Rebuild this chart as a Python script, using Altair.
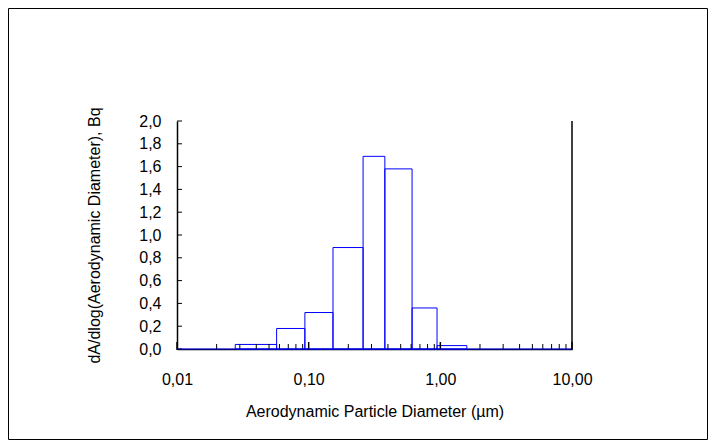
import altair as alt
import pandas as pd

# Bin edges (µm) and heights (Bq)
edges = [0.0277, 0.0571, 0.0936, 0.153, 0.259, 0.379, 0.61, 0.944, 1.59]
heights = [0.04, 0.18, 0.32, 0.89, 1.69, 1.58, 0.36, 0.03]

x_major = [0.01, 0.1, 1, 10]
x_minor = [k * d for d in [0.01, 0.1, 1] for k in range(2, 10)]
y_ticks = [0.0, 0.2, 0.4, 0.6, 0.8, 1.0, 1.2, 1.4, 1.6, 1.8, 2.0]

XT = "Aerodynamic Particle Diameter (µm)"
YT = "dA/dlog(Aerodynamic Diameter), Bq"

W, H = 395, 228
PL, PT = 169, 113
PR = 700 - PL - W
PB = 432 - PT - H

bars_df = pd.DataFrame({"lo": edges[:-1], "hi": edges[1:], "h": heights, "base": [0] * len(heights)})
base_df = pd.DataFrame({"a": [0.01], "b": [10], "y": [0]})
minor_df = pd.DataFrame({"v": x_minor})
major_df = pd.DataFrame({"v": x_major})
yt_df = pd.DataFrame({"v": y_ticks})

xs = alt.Scale(type="log", domain=[0.01, 10])
ys = alt.Scale(domain=[0, 2], nice=False)

FONT = "Liberation Sans"

x_axis = alt.Axis(
    values=x_major, ticks=False, grid=False, labelOverlap=False, labelFlush=False,
    labelExpr="replace(format(datum.value, '.2f'), '.', ',')",
    labelPadding=22, titleY=62, titleBaseline="middle")
y_axis = alt.Axis(
    values=y_ticks, ticks=False, grid=False, labelOverlap=False, labelFlush=False,
    labelExpr="replace(format(datum.value, '.1f'), '.', ',')",
    labelPadding=16, titleX=-83, titleY=H / 2, titleBaseline="middle")

bars = alt.Chart(bars_df).mark_rect(fillOpacity=0, stroke="#0000FF", strokeWidth=1).encode(
    x=alt.X("lo:Q", scale=xs, title=XT, axis=x_axis),
    x2="hi:Q",
    y=alt.Y("h:Q", scale=ys, title=YT, axis=y_axis),
    y2="base:Q",
)

baseline = alt.Chart(base_df).mark_rule(color="#0000FF", strokeWidth=1).encode(
    x=alt.X("a:Q", scale=xs, title=XT, axis=x_axis), x2="b:Q",
    y=alt.Y("y:Q", scale=ys, title=YT, axis=y_axis)
)

minor_ticks = alt.Chart(minor_df).mark_rule(color="black", strokeWidth=1).encode(
    x=alt.X("v:Q", scale=xs, title=XT, axis=x_axis), y=alt.value(H), y2=alt.value(H - 5)
)
major_ticks = alt.Chart(major_df).mark_rule(color="black", strokeWidth=1.5).encode(
    x=alt.X("v:Q", scale=xs, title=XT, axis=x_axis), y=alt.value(H + 1), y2=alt.value(H - 7)
)
y_tick_marks = alt.Chart(yt_df).mark_rule(color="black", strokeWidth=1).encode(
    y=alt.Y("v:Q", scale=ys, title=YT, axis=y_axis), x=alt.value(0), x2=alt.value(5)
)

right_line = alt.Chart(base_df).mark_rule(color="black", strokeWidth=1.5).encode(
    x=alt.value(W), y=alt.value(0), y2=alt.value(H)
)

border = alt.Chart(base_df).mark_rect(fillOpacity=0, stroke="black", strokeWidth=1).encode(
    x=alt.value(-PL + 0.5), x2=alt.value(W + PR - 0.5),
    y=alt.value(-PT + 0.5), y2=alt.value(H + PB - 0.5)
)

chart = alt.layer(bars, minor_ticks, major_ticks, y_tick_marks, baseline, right_line, border).properties(
    width=W, height=H,
    padding={"left": PL, "top": PT, "right": PR, "bottom": PB},
    autosize=alt.AutoSizeParams(type="none"),
    background="white",
).configure_view(stroke=None).configure_axis(
    labelOverlap=False, labelFlush=False,
    labelFont=FONT, labelFontSize=16, labelColor="black",
    titleFont=FONT, titleFontSize=16, titleFontWeight="normal", titleColor="black",
    domainColor="black", domainWidth=1.5,
)

chart.save("out.html", embed_options={"renderer": "svg", "actions": False})
